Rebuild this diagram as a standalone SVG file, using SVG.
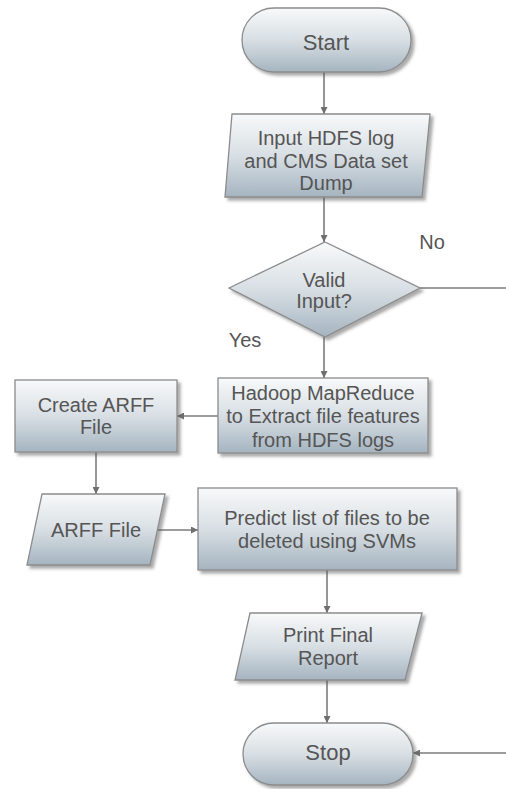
<svg xmlns="http://www.w3.org/2000/svg" width="506" height="789" viewBox="0 0 506 789">
  <style>
    .shape { fill: url(#shade); stroke: #8c8c8c; stroke-width: 1.3; filter: url(#drop); }
    .lbl { font-family: "Liberation Sans", Arial, sans-serif; font-size: 20px; fill: #555555; text-anchor: middle; }
    .big { font-size: 22px; }
    .edge { fill: none; stroke: #7c7c7c; stroke-width: 1.6; }
    .arrow { marker-end: url(#tip); }
  </style>
  <defs>
    <linearGradient id="shade" x1="0" y1="0" x2="0" y2="1">
      <stop offset="0" stop-color="#f8f9fa"/>
      <stop offset="0.5" stop-color="#d8dfe4"/>
      <stop offset="1" stop-color="#a5b4c0"/>
    </linearGradient>
    <filter id="drop" x="-10%" y="-10%" width="125%" height="130%">
      <feDropShadow dx="3" dy="3" stdDeviation="1.6" flood-color="#555" flood-opacity="0.5"/>
    </filter>
    <marker id="tip" viewBox="0 0 10 10" refX="10" refY="5" markerWidth="8" markerHeight="7" markerUnits="userSpaceOnUse" orient="auto">
      <path d="M0,0 L10,5 L0,10 z" fill="#6f6f6f"/>
    </marker>
  </defs>

  <rect width="506" height="789" fill="#ffffff"/>

  <!-- connectors and their branch labels -->
  <g id="connectors">
    <path class="edge arrow" d="M324,72 V114"/>
    <path class="edge arrow" d="M324,197 V242"/>
    <path class="edge" d="M420,288 H506"/>
    <path class="edge arrow" d="M324,337 V378"/>
    <path class="edge arrow" d="M218,416 H177"/>
    <path class="edge arrow" d="M96,452 V494"/>
    <path class="edge arrow" d="M158,530 H198"/>
    <path class="edge arrow" d="M327,570 V613"/>
    <path class="edge arrow" d="M327,680 V723"/>
    <path class="edge arrow" d="M506,753 H413"/>
    <text class="lbl" x="432" y="249">No</text>
    <text class="lbl" x="245" y="347">Yes</text>
  </g>

  <g id="start">
    <rect class="shape" x="242" y="8" width="169" height="64" rx="32"/>
    <text class="lbl big" x="326" y="50">Start</text>
  </g>

  <g id="input">
    <polygon class="shape" points="232,114 430,114 422,197 225,197"/>
    <text class="lbl" x="326" y="145">Input HDFS log</text>
    <text class="lbl" x="326" y="168">and CMS Data set</text>
    <text class="lbl" x="326" y="190">Dump</text>
  </g>

  <g id="valid">
    <polygon class="shape" points="325,242 420,288 325,337 229,288"/>
    <text class="lbl" x="324" y="287">Valid</text>
    <text class="lbl" x="324" y="308">Input?</text>
  </g>

  <g id="mapreduce">
    <rect class="shape" x="218" y="378" width="210" height="75"/>
    <text class="lbl" x="323" y="400">Hadoop MapReduce</text>
    <text class="lbl" x="323" y="423">to Extract file features</text>
    <text class="lbl" x="323" y="447">from HDFS logs</text>
  </g>

  <g id="create-arff">
    <rect class="shape" x="15" y="380" width="162" height="72"/>
    <text class="lbl" x="96" y="412">Create ARFF</text>
    <text class="lbl" x="96" y="434">File</text>
  </g>

  <g id="arff-file">
    <polygon class="shape" points="42,494 165,494 150,565 27,565"/>
    <text class="lbl" x="96" y="537">ARFF File</text>
  </g>

  <g id="predict">
    <rect class="shape" x="198" y="488" width="259" height="82"/>
    <text class="lbl" x="327" y="525">Predict list of files to be</text>
    <text class="lbl" x="327" y="548">deleted using SVMs</text>
  </g>

  <g id="report">
    <polygon class="shape" points="250,613 422,613 405,680 235,680"/>
    <text class="lbl" x="328" y="642">Print Final</text>
    <text class="lbl" x="328" y="665">Report</text>
  </g>

  <g id="stop">
    <rect class="shape" x="243" y="723" width="170" height="62" rx="31"/>
    <text class="lbl big" x="328" y="760">Stop</text>
  </g>
</svg>
